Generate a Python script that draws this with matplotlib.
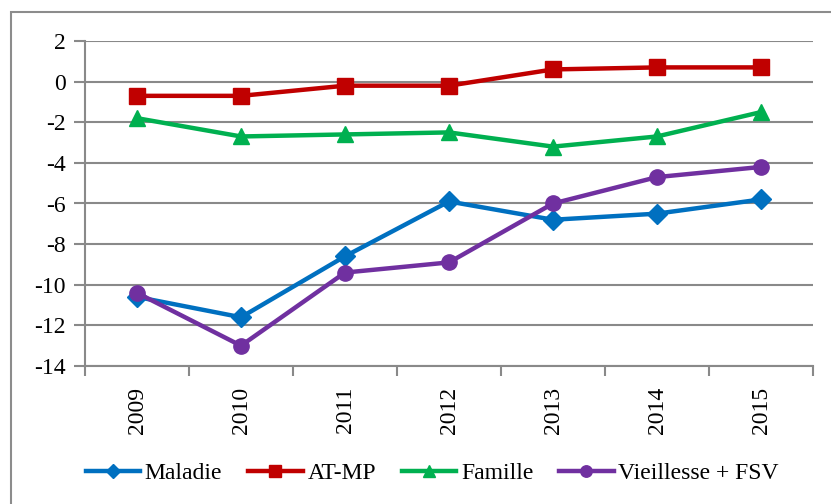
import matplotlib.pyplot as plt
import numpy as np
from matplotlib.patches import Rectangle

years = ["2009", "2010", "2011", "2012", "2013", "2014", "2015"]
maladie = [-10.6, -11.6, -8.6, -5.9, -6.8, -6.5, -5.8]
at_mp = [-0.7, -0.7, -0.2, -0.2, 0.6, 0.7, 0.7]
famille = [-1.8, -2.7, -2.6, -2.5, -3.2, -2.7, -1.5]
vieillesse = [-10.4, -13.0, -9.4, -8.9, -6.0, -4.7, -4.2]

plt.rcParams["font.family"] = ["Liberation Serif", "DejaVu Serif"]
plt.rcParams["font.size"] = 13

GRID = "#898989"

fig = plt.figure(figsize=(8.31, 5.04), dpi=100)
fig.patches.append(Rectangle((11 / 831, -0.1), 1.2, 1 - 12 / 504 + 0.1,
                             transform=fig.transFigure, fill=False,
                             edgecolor="#8c8c8c", linewidth=1.5))
ax = fig.add_axes([85 / 831, 1 - 366 / 504, (813 - 85) / 831, (366 - 41) / 504])

x = np.arange(len(years))
series = [
    (maladie, "Maladie", "#0070C0", "D", 10),
    (at_mp, "AT-MP", "#C00000", "s", 12),
    (famille, "Famille", "#00B050", "^", 12),
    (vieillesse, "Vieillesse + FSV", "#7030A0", "o", 11),
]
for vals, label, color, marker, ms in series:
    ax.plot(x, vals, color=color, linewidth=3.2, marker=marker, markersize=ms,
            label=label, clip_on=False, zorder=3)

ax.set_xlim(-0.5, 6.5)
ax.set_ylim(-14, 2)
ax.set_yticks(np.arange(-14, 3, 2))
ax.set_yticklabels([str(v) for v in range(-14, 3, 2)])
ax.yaxis.grid(True, color=GRID, linewidth=1.5)
ax.set_axisbelow(True)

ax.set_xticks(x)
ax.set_xticklabels(years, rotation=90)
ax.set_xticks(np.arange(-0.5, 7, 1), minor=True)
ax.tick_params(axis="x", which="major", length=0, pad=15, labelsize=17)
ax.tick_params(axis="x", which="minor", length=7, width=1.5, color=GRID)
ax.tick_params(axis="y", length=8, width=1.5, color=GRID, pad=6, labelsize=17)

for side in ["top", "right"]:
    ax.spines[side].set_visible(False)
for side in ["left", "bottom"]:
    ax.spines[side].set_color(GRID)
    ax.spines[side].set_linewidth(1.5)

ax.legend(loc="center", bbox_to_anchor=(0.477, -0.33), ncol=4, frameon=False,
          handlelength=2.3, handletextpad=0.2, columnspacing=1.1,
          fontsize=17, markerscale=0.75)

fig.savefig("out.png", dpi=100, facecolor="white")
